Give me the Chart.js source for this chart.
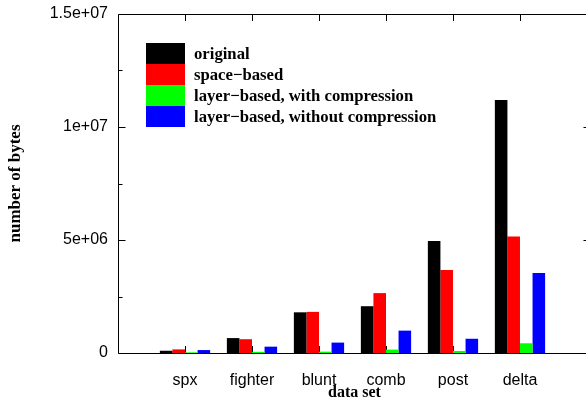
<!DOCTYPE html>
<html><head><meta charset="utf-8">
<script src="https://cdn.jsdelivr.net/npm/chart.js@4/dist/chart.umd.min.js"></script>
<style>html,body{margin:0;padding:0;overflow:hidden;background:#fff}#wrap{width:600px;height:400px}</style>
</head><body><div id="wrap"><canvas id="c" width="600" height="400"></canvas></div>
<script>
const categories = ['spx', 'fighter', 'blunt', 'comb', 'post', 'delta'];
const original = [1.0e5, 6.6e5, 1.80e6, 2.07e6, 4.96e6, 1.12e7];
const spaceBased = [1.6e5, 6.1e5, 1.82e6, 2.65e6, 3.67e6, 5.15e6];
const layerCompressed = [3e4, 5e4, 6e4, 1.5e5, 9e4, 4.3e5];
const layerUncompressed = [1.3e5, 2.8e5, 4.6e5, 9.9e5, 6.3e5, 3.54e6];
const seriesLabels = ['original', 'space\u2212based', 'layer\u2212based, with compression', 'layer\u2212based, without compression'];
const seriesColors = ['#000000', '#ff0000', '#00ff00', '#0000ff'];
const yTickValues = [0, 5e6, 1e7, 1.5e7];
const yTickLabels = ['0', '5e+06', '1e+07', '1.5e+07'];
const yMinorValues = [2.5e6, 7.5e6, 1.25e7];

const seriesData = [original, spaceBased, layerCompressed, layerUncompressed];

function seg(ctx, x1, y1, x2, y2) { ctx.beginPath(); ctx.moveTo(x1, y1); ctx.lineTo(x2, y2); ctx.stroke(); }

const framePlugin = {
  id: 'frame',
  beforeDatasetsDraw(chart) {
    const { ctx, chartArea: a, scales: { x } } = chart;
    ctx.save();
    ctx.strokeStyle = '#000'; ctx.lineWidth = 1;
    categories.forEach((c, i) => {
      const px = Math.round(x.getPixelForValue(i + 1)) + 0.5;
      seg(ctx, px, a.bottom, px, a.bottom - 7);
      seg(ctx, px, a.top, px, a.top + 7);
    });
    ctx.restore();
  },
  afterDatasetsDraw(chart) {
    const { ctx, chartArea: a, scales: { y } } = chart;
    ctx.save();
    ctx.strokeStyle = '#000'; ctx.lineWidth = 1;
    const L = Math.round(a.left) + 0.5, R = Math.round(a.right) - 0.5;
    const T = Math.round(a.top) + 0.5, B = Math.round(a.bottom) + 0.5;
    seg(ctx, L, T, R, T);
    seg(ctx, L, B, R, B);
    seg(ctx, L, T, L, B);
    seg(ctx, R, T, R, B);
    yTickValues.forEach(v => {
      const py = Math.round(y.getPixelForValue(v)) + 0.5;
      seg(ctx, L, py, L + 7, py);
      seg(ctx, R, py, R - 7, py);
    });
    yMinorValues.forEach(v => {
      const py = Math.round(y.getPixelForValue(v)) + 0.5;
      seg(ctx, L, py, L + 4, py);
      seg(ctx, R, py, R - 4, py);
    });
    ctx.restore();
  }
};

const legendPlugin = {
  id: 'insideLegend',
  afterDraw(chart) {
    const { ctx, chartArea: a } = chart;
    ctx.save();
    const bx = Math.round(a.left) + 28, by = Math.round(a.top) + 29;
    const bw = 39, rh = 21;
    ctx.font = 'bold 16.7px "Liberation Serif"';
    ctx.textBaseline = 'middle';
    ctx.textAlign = 'left';
    chart.data.datasets.forEach((ds, k) => {
      const yy = by + k * rh;
      ctx.fillStyle = ds.backgroundColor;
      ctx.fillRect(bx, yy, bw, rh);
      ctx.fillStyle = '#000';
      ctx.fillText(ds.label, bx + bw + 9, yy + rh / 2 + 1);
    });
    ctx.restore();
  }
};

new Chart(document.getElementById('c'), {
  type: 'bar',
  data: {
    datasets: seriesData.map((d, k) => ({
      label: seriesLabels[k],
      data: d.map((v, i) => ({ x: i + 1, y: v })),
      backgroundColor: seriesColors[k],
      borderWidth: 0,
      categoryPercentage: 0.75,
      barPercentage: 1
    }))
  },
  options: {
    responsive: false,
    devicePixelRatio: 1,
    animation: false,
    layout: { padding: { top: 14, right: 9, left: 0, bottom: 0 } },
    plugins: { legend: { display: false }, tooltip: { enabled: false } },
    scales: {
      x: {
        type: 'linear', min: 0, max: 7.06, offset: false,
        afterBuildTicks(s) { s.ticks = categories.map((c, i) => ({ value: i + 1 })); },
        ticks: {
          callback: (v, i) => categories[i],
          font: { family: 'Liberation Sans', size: 16 }, color: '#000',
          padding: 18, maxRotation: 0, autoSkip: false
        },
        grid: { display: false, drawTicks: false },
        border: { display: false },
        title: { display: true, text: 'data set', color: '#000', padding: { top: 0, bottom: -2 },
          font: { family: 'Liberation Serif', size: 16, weight: 'bold' } },
        afterFit(s) { s.height = 47; s.paddingLeft = 0; s.paddingRight = 0; }
      },
      y: {
        type: 'linear', min: 0, max: 1.5e7,
        afterBuildTicks(s) { s.ticks = yTickValues.map(v => ({ value: v })); },
        ticks: {
          callback: (v, i) => yTickLabels[i],
          font: { family: 'Liberation Sans', size: 16 }, color: '#000',
          padding: 10, autoSkip: false
        },
        grid: { display: false, drawTicks: false },
        border: { display: false },
        title: { display: true, text: 'number of bytes', color: '#000', padding: { top: 5, bottom: 0 },
          font: { family: 'Liberation Serif', size: 17, weight: 'bold' } },
        afterFit(s) { s.width = 118; s.paddingTop = 0; s.paddingBottom = 0; }
      }
    }
  },
  plugins: [framePlugin, legendPlugin]
});
</script></body></html>
